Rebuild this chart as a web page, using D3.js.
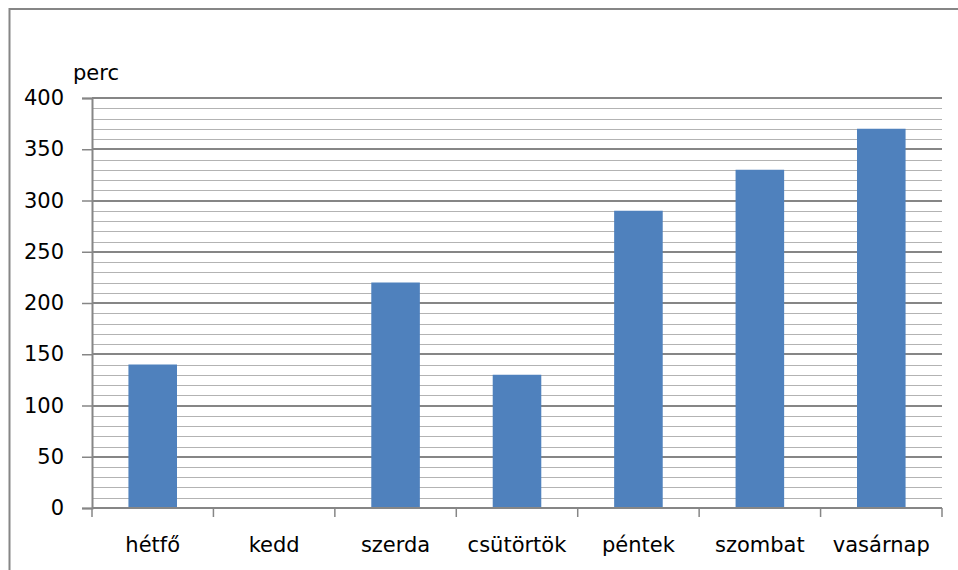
<!DOCTYPE html>
<html>
<head>
<meta charset="utf-8">
<script src="https://cdn.jsdelivr.net/npm/d3@7"></script>
<style>
  body { margin: 0; background: #fff; }
  svg { display: block; font-family: "DejaVu Sans", sans-serif; }
</style>
</head>
<body>
<div id="chart"></div>
<script>
const days = ['hétfő', 'kedd', 'szerda', 'csütörtök', 'péntek', 'szombat', 'vasárnap'];
const minutes = [140, 0, 220, 130, 290, 330, 370];
const yTicks = [0, 50, 100, 150, 200, 250, 300, 350, 400];
const unitLabel = 'perc';

const width = 958, height = 570;
const margin = { top: 98, right: 16, bottom: 62, left: 92 };
const fontSize = '21px';

const svg = d3.select('#chart').append('svg')
  .attr('width', width)
  .attr('height', height);

// chart area border (continues past the picture on the right and bottom)
svg.append('rect')
  .attr('x', 9.5).attr('y', 9)
  .attr('width', 960).attr('height', 580)
  .attr('fill', 'none')
  .attr('stroke', '#868686')
  .attr('stroke-width', 2);

const x = d3.scaleBand()
  .domain(days)
  .range([margin.left, width - margin.right])
  .paddingInner(0.6)
  .paddingOuter(0.3);

const y = d3.scaleLinear()
  .domain([0, 400])
  .range([height - margin.bottom, margin.top]);

// minor gridlines every 10
svg.append('g')
  .selectAll('line')
  .data(d3.range(10, 400, 10).filter(v => v % 50 !== 0))
  .join('line')
  .attr('x1', margin.left).attr('x2', width - margin.right)
  .attr('y1', d => Math.round(y(d)) + 0.5).attr('y2', d => Math.round(y(d)) + 0.5)
  .attr('stroke', '#b3b3b3')
  .attr('stroke-width', 1);

// major gridlines every 50
svg.append('g')
  .selectAll('line')
  .data(yTicks.slice(1))
  .join('line')
  .attr('x1', margin.left).attr('x2', width - margin.right)
  .attr('y1', d => Math.round(y(d)))
  .attr('y2', d => Math.round(y(d)))
  .attr('stroke', '#868686')
  .attr('stroke-width', 2);

// bars
svg.append('g')
  .selectAll('rect')
  .data(days)
  .join('rect')
  .attr('x', d => x(d))
  .attr('width', x.bandwidth())
  .attr('y', (d, i) => y(minutes[i]))
  .attr('height', (d, i) => y(0) - y(minutes[i]))
  .attr('fill', '#4f81bd');

// y axis
const yAxis = svg.append('g')
  .attr('transform', `translate(${margin.left},0)`)
  .call(d3.axisLeft(y).tickValues(yTicks).tickSize(10).tickPadding(18));
yAxis.select('.domain').attr('stroke', '#868686').attr('stroke-width', 2);
yAxis.selectAll('.tick line').attr('stroke', '#868686').attr('stroke-width', 1.5);
yAxis.selectAll('.tick text')
  .attr('fill', '#000')
  .style('font-size', fontSize)
  .style('font-family', '"DejaVu Sans", sans-serif');

// x axis with ticks at band boundaries
const xAxisG = svg.append('g')
  .attr('transform', `translate(0,${y(0)})`);
xAxisG.append('line')
  .attr('x1', margin.left).attr('x2', width - margin.right)
  .attr('stroke', '#868686').attr('stroke-width', 2);
const step = x.step();
xAxisG.selectAll('.xtick')
  .data(d3.range(days.length + 1))
  .join('line')
  .attr('class', 'xtick')
  .attr('x1', i => margin.left + i * step)
  .attr('x2', i => margin.left + i * step)
  .attr('y1', 0).attr('y2', 9)
  .attr('stroke', '#868686').attr('stroke-width', 1.5);
xAxisG.selectAll('.xlabel')
  .data(days)
  .join('text')
  .attr('class', 'xlabel')
  .attr('x', d => x(d) + x.bandwidth() / 2)
  .attr('y', 43.5)
  .attr('text-anchor', 'middle')
  .style('font-size', fontSize)
  .text(d => d);

// unit label
svg.append('text')
  .attr('x', 73).attr('y', 80)
  .style('font-size', fontSize)
  .text(unitLabel);
</script>
</body>
</html>
